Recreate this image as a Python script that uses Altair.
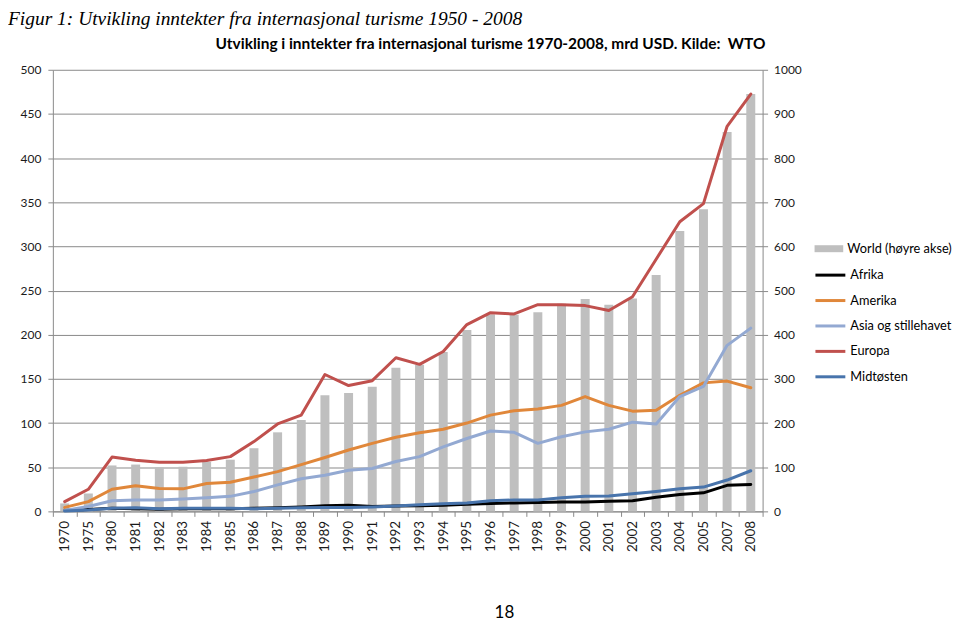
import altair as alt
import pandas as pd

years = ["1970", "1975", "1980", "1981", "1982", "1983", "1984", "1985", "1986", "1987",
         "1988", "1989", "1990", "1991", "1992", "1993", "1994", "1995", "1996", "1997",
         "1998", "1999", "2000", "2001", "2002", "2003", "2004", "2005", "2007", "2008"]

world = [18, 40.5, 104, 106, 100, 101, 112, 117, 143, 179, 207, 263, 268, 282, 325, 332,
         361, 411, 446, 445, 451, 470, 481, 468, 482, 535, 635, 684, 859, 945]

afrika = [1, 2, 3.5, 3, 2.5, 3, 3, 3, 3.5, 4, 5, 6.5, 7, 5.5, 6, 6.5, 7, 8, 9, 9.5,
          10, 10.5, 10.5, 11.5, 12, 16, 19, 21, 29.5, 30.5]
amerika = [4.5, 11, 25, 29, 26, 25.5, 31.5, 33, 39, 45, 53, 61, 69.5, 77, 84, 89, 93, 100,
           109, 114, 116, 120, 130, 120, 113.5, 114.5, 131.5, 145.5, 147.5, 140]
asia = [1, 5.5, 12, 13, 13, 14, 15.5, 17, 22.5, 30, 37, 41, 46.5, 48.5, 56.5, 62, 73, 82.5,
        91, 89.5, 77, 84.5, 90, 93, 101, 99, 130, 141.5, 188, 207.5]
europa = [11, 25, 61.5, 58, 55.5, 55.5, 57.5, 62, 79, 99, 109, 155, 142.5, 148, 174, 166.5,
          181, 211.5, 225, 223.5, 234, 234, 233, 227.5, 243, 285.5, 328, 348.5, 436, 472.5]
midtosten = [0.5, 1.5, 3.5, 4, 3, 3.5, 3.5, 3.5, 3, 3.5, 4, 4.5, 4.5, 5, 6, 7.5, 8.5, 9.5,
             12, 13, 13, 15.5, 17, 17.5, 20, 22.5, 25.5, 27.5, 35.5, 46]

regions = ["Afrika", "Amerika", "Asia og stillehavet", "Europa", "Midtøsten"]
region_colors = ["#000000", "#E0873A", "#93A9D2", "#C0504D", "#4874AC"]
world_label = "World (høyre akse)"

fig_title = "Figur 1: Utvikling inntekter fra internasjonal turisme 1950 - 2008"
chart_title = "Utvikling i inntekter fra internasjonal turisme 1970-2008, mrd USD. Kilde:\u00a0 WTO"
page_no = "18"

W, H = 712, 443
FONT = "Lato"
GRID = "#8a8a8a"

bar_df = pd.DataFrame({"year": years, "world": world, "label": world_label})
series = {"Afrika": afrika, "Amerika": amerika, "Asia og stillehavet": asia,
          "Europa": europa, "Midtøsten": midtosten}
line_df = pd.DataFrame([
    {"year": y, "region": r, "value": v, "order": i}
    for i, r in enumerate(regions) for y, v in zip(years, series[r])
])

x_enc = alt.X("year:N", sort=years, title=None,
              scale=alt.Scale(paddingInner=0, paddingOuter=0),
              axis=alt.Axis(labelAngle=270, labelFont=FONT, labelFontSize=13.5,
                            labelColor="#1a1a1a", labelPadding=4, tickSize=5,
                            tickBand="extent", domainColor=GRID, tickColor=GRID,
                            grid=False))

bars = alt.Chart(bar_df).mark_bar(size=9).encode(
    x=x_enc,
    y=alt.Y("world:Q", title=None,
            scale=alt.Scale(domain=[0, 1000], nice=False),
            axis=alt.Axis(orient="right", values=list(range(0, 1001, 100)), grid=False,
                          format="d",
                          labelFont=FONT, labelFontSize=12, labelColor="#1a1a1a",
                          tickSize=5, labelPadding=6, domainColor=GRID, tickColor=GRID)),
    fill=alt.Fill("label:N", scale=alt.Scale(domain=[world_label], range=["#BFBFBF"]),
                  legend=alt.Legend(orient="none", legendX=766, legendY=167, title=None,
                                    symbolType="M-1.15,-0.28H1.15V0.28H-1.15Z",
                                    symbolSize=625, symbolStrokeWidth=0,
                                    labelFont=FONT, labelFontSize=12.8, labelColor="#000000",
                                    labelOffset=6, padding=0)),
)

lines = alt.Chart(line_df).mark_line(strokeWidth=3, strokeCap="round", strokeJoin="round").encode(
    x=x_enc,
    y=alt.Y("value:Q", title=None,
            scale=alt.Scale(domain=[0, 500], nice=False),
            axis=alt.Axis(orient="left", values=list(range(0, 501, 50)), grid=True,
                          gridColor=GRID, gridWidth=1, labelFont=FONT, labelFontSize=12,
                          labelColor="#1a1a1a", tickSize=5, labelPadding=7,
                          domainColor=GRID, tickColor=GRID, minExtent=42)),
    stroke=alt.Stroke("region:N", scale=alt.Scale(domain=regions, range=region_colors),
                      legend=alt.Legend(orient="none", legendX=766, legendY=192, title=None,
                                        symbolType="M-1.2,0H1.2", symbolSize=625,
                                        symbolStrokeWidth=3, labelFont=FONT, labelFontSize=12.8,
                                        labelColor="#000000", labelOffset=6, rowPadding=4.5,
                                        padding=0)),
    order=alt.Order("order:Q"),
)

one = alt.Data(values=[{}])
t_fig = alt.Chart(one).mark_text(text=fig_title, font="Liberation Serif", fontStyle="italic",
                                 fontSize=19.5, align="left", baseline="top",
                                 color="#000000").encode(x=alt.value(-45), y=alt.value(-60))
t_chart = alt.Chart(one).mark_text(text=chart_title, font=FONT, fontWeight="bold",
                                   fontSize=15.5, align="center", baseline="alphabetic",
                                   color="#000000").encode(x=alt.value(439), y=alt.value(-21))
t_page = alt.Chart(one).mark_text(text=page_no, font=FONT, fontSize=17, align="center",
                                  baseline="top", color="#000000").encode(
    x=alt.value(453), y=alt.value(537))

chart = alt.layer(bars, lines, t_fig, t_chart, t_page).resolve_scale(
    y="independent", x="shared"
).properties(
    width=W, height=H,
    padding={"left": 0, "top": 0, "right": 0, "bottom": 0},
).configure_view(stroke=None)

chart.save("out.html", embed_options={"renderer": "svg", "actions": False})
